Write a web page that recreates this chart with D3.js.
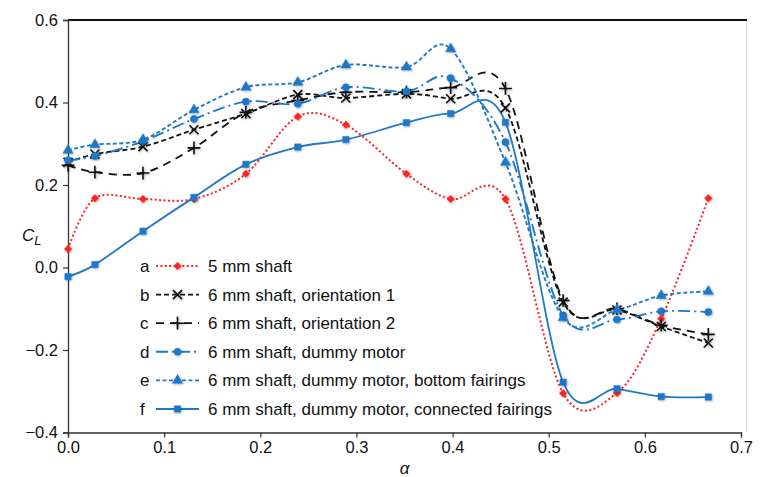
<!DOCTYPE html>
<html>
<head>
<meta charset="utf-8">
<script src="https://cdn.jsdelivr.net/npm/d3@7"></script>
<style>
  body { margin: 0; background: #fff; }
  text { font-family: "Liberation Sans", Arial, sans-serif; fill: #111; }
</style>
</head>
<body>
<div id="chart"></div>
<script>
// data
var alpha = [0, 0.028, 0.078, 0.131, 0.185, 0.239, 0.289, 0.352, 0.398, 0.455, 0.515, 0.571, 0.617, 0.666];

var shaft5 = [0.045, 0.168, 0.166, 0.166, 0.227, 0.366, 0.346, 0.227, 0.166, 0.166, -0.305, -0.304, -0.124, 0.168];
var orient1 = [0.255, 0.275, 0.293, 0.334, 0.373, 0.419, 0.411, 0.421, 0.409, 0.387, -0.084, -0.103, -0.143, -0.183];
var orient2 = [0.248, 0.231, 0.229, 0.290, 0.376, 0.405, 0.425, 0.425, 0.436, 0.434, -0.080, -0.100, -0.140, -0.162];
var dummy = [0.260, 0.270, 0.306, 0.360, 0.402, 0.397, 0.437, 0.427, 0.459, 0.304, -0.116, -0.126, -0.106, -0.108];
var bottomFair = [0.284, 0.298, 0.310, 0.382, 0.437, 0.449, 0.491, 0.486, 0.530, 0.255, -0.122, -0.103, -0.068, -0.058];
var connFair = [-0.022, 0.007, 0.088, 0.170, 0.250, 0.292, 0.310, 0.351, 0.373, 0.352, -0.278, -0.294, -0.313, -0.314];

var letters = ["a", "b", "c", "d", "e", "f"];
var labels = ["5 mm shaft", "6 mm shaft, orientation 1", "6 mm shaft, orientation 2",
  "6 mm shaft, dummy motor", "6 mm shaft, dummy motor, bottom fairings",
  "6 mm shaft, dummy motor, connected fairings"];

var xTicks = [0, 0.1, 0.2, 0.3, 0.4, 0.5, 0.6, 0.7];
var yTicks = [-0.4, -0.2, 0, 0.2, 0.4, 0.6];

var red = "#ff2020";
var blue = "#1f78c8";

var series = [
  {vals: shaft5, color: red, dash: "2,2.4", width: 2, sym: d3.symbolDiamond2, size: 36, fill: true},
  {vals: orient1, color: "#111", dash: "5,3", width: 1.8, sym: d3.symbolTimes, size: 55, fill: false},
  {vals: orient2, color: "#111", dash: "8,6", width: 1.8, sym: d3.symbolPlus, size: 55, fill: false},
  {vals: dummy, color: blue, dash: "12,4,2,4", width: 1.9, sym: d3.symbolCircle, size: 40, fill: true},
  {vals: bottomFair, color: blue, dash: "4,2.5", width: 1.9, sym: d3.symbolTriangle, size: 45, fill: true},
  {vals: connFair, color: blue, dash: null, width: 1.8, sym: d3.symbolSquare, size: 40, fill: true}
];

var svgWidth = 760;
var svgHeight = 477;

var margin = {top: 20, right: 19, bottom: 44.5, left: 68};

var width = svgWidth - margin.left - margin.right;
var height = svgHeight - margin.top - margin.bottom;

var svg = d3.select("#chart")
  .append("svg")
  .attr("width", svgWidth)
  .attr("height", svgHeight);

var defs = svg.append("defs");
var shadow = defs.append("filter").attr("id", "shadow")
  .attr("x", "-50%").attr("y", "-50%").attr("width", "200%").attr("height", "200%");
shadow.append("feDropShadow")
  .attr("dx", 0.8).attr("dy", 0.8).attr("stdDeviation", 0.9)
  .attr("flood-color", "#000").attr("flood-opacity", 0.35);

var chartGroup = svg.append("g")
  .attr("transform", `translate(${margin.left}, ${margin.top})`);

var x = d3.scaleLinear().domain([0, 0.7]).range([0, width]);
var y = d3.scaleLinear().domain([-0.4, 0.6]).range([height, 0]);

// frame: top dark line, faint right edge
chartGroup.append("line")
  .attr("x1", 0).attr("x2", width + 6).attr("y1", 0).attr("y2", 0)
  .attr("stroke", "#111").attr("stroke-width", 2);
chartGroup.append("line")
  .attr("x1", width + 5.5).attr("x2", width + 5.5).attr("y1", 1).attr("y2", height)
  .attr("stroke", "#ddd").attr("stroke-width", 1);

var bottomAxis = d3.axisBottom(x).tickValues(xTicks).tickFormat(d3.format(".1f")).tickSize(5).tickPadding(4);
var leftAxis = d3.axisLeft(y).tickValues(yTicks).tickFormat(d3.format(".1f")).tickSize(5).tickPadding(5);

var gx = chartGroup.append("g")
  .attr("transform", `translate(0, ${height})`)
  .call(bottomAxis);
var gy = chartGroup.append("g")
  .call(leftAxis);

[gx, gy].forEach(function(g) {
  g.select(".domain").attr("stroke", "#333").attr("stroke-width", 1.3);
  g.selectAll(".tick line").attr("stroke", "#333").attr("stroke-width", 1.2);
  g.selectAll(".tick text").attr("font-size", 16.5).attr("fill", "#111")
    .attr("font-family", "'Liberation Sans', Arial, sans-serif");
});

var line = d3.line()
  .x(function(d, i) { return x(alpha[i]); })
  .y(function(d) { return y(d); })
  .curve(d3.curveCatmullRom.alpha(0));

series.forEach(function(s) {
  chartGroup.append("path")
    .attr("d", line(s.vals))
    .attr("fill", "none")
    .attr("stroke", s.color)
    .attr("stroke-width", s.width)
    .attr("stroke-dasharray", s.dash);
});

function drawMarker(g, s, px, py) {
  g.append("path")
    .attr("d", d3.symbol().type(s.sym).size(s.size)())
    .attr("transform", `translate(${px}, ${py})`)
    .attr("fill", s.fill ? s.color : "none")
    .attr("stroke", s.color)
    .attr("stroke-width", s.fill ? 0.5 : 1.6)
    .attr("filter", "url(#shadow)");
}

series.forEach(function(s) {
  var mg = chartGroup.append("g");
  s.vals.forEach(function(v, i) {
    drawMarker(mg, s, x(alpha[i]), y(v));
  });
});

// legend
var legend = svg.append("g");
var rowY = d3.scaleLinear().domain([0, 5]).range([266, 409]);
series.forEach(function(s, i) {
  var ly = rowY(i);
  legend.append("text").attr("x", 140).attr("y", ly + 6).attr("font-size", 17).text(letters[i]);
  legend.append("line")
    .attr("x1", 156).attr("x2", 199).attr("y1", ly).attr("y2", ly)
    .attr("stroke", s.color).attr("stroke-width", s.width)
    .attr("stroke-dasharray", s.dash);
  drawMarker(legend, s, 177.5, ly);
  legend.append("text").attr("x", 208).attr("y", ly + 6).attr("font-size", 17).text(labels[i]);
});

// axis titles
var ylab = svg.append("text").attr("x", 22).attr("y", 241).attr("font-size", 17).attr("font-style", "italic");
ylab.append("tspan").text("C");
ylab.append("tspan").attr("dy", 4).attr("font-size", 13).text("L");

svg.append("text")
  .attr("x", margin.left + x(0.35))
  .attr("y", 474)
  .attr("text-anchor", "middle")
  .attr("font-size", 17)
  .attr("font-style", "italic")
  .text("α");
</script>
</body>
</html>
